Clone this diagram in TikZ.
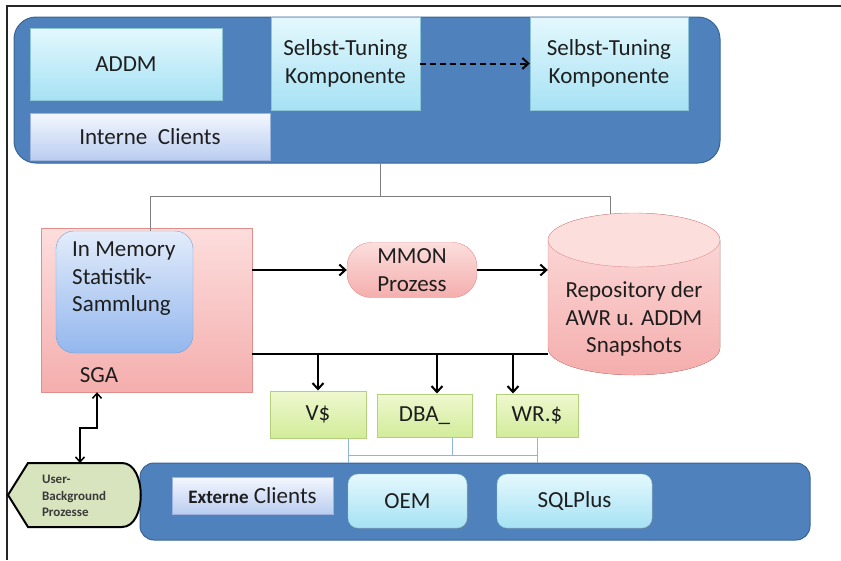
\documentclass[tikz,border=0pt]{standalone}
\usepackage{fontspec}
\setmainfont{Carlito}
\usetikzlibrary{arrows.meta,shadows}
\definecolor{ink}{HTML}{1E1E1E}
\definecolor{ink2}{HTML}{3A3A3A}
\definecolor{panelblue}{HTML}{4F81BD}
\definecolor{paneledge}{HTML}{3A6595}
\definecolor{cyantop}{HTML}{E4F8FD}
\definecolor{cyanbot}{HTML}{A6E2F4}
\definecolor{cyanedge}{HTML}{8CC6D6}
\definecolor{lavtop}{HTML}{F4F7FE}
\definecolor{lavbot}{HTML}{BACDF0}
\definecolor{lavedge}{HTML}{9DB3DE}
\definecolor{pinktop}{HTML}{FCDEDD}
\definecolor{pinkbot}{HTML}{F4AEAD}
\definecolor{pinkedge}{HTML}{E08E8C}
\definecolor{bluetop}{HTML}{E3ECFA}
\definecolor{bluebot}{HTML}{93B7EE}
\definecolor{blueedge}{HTML}{7A9FD3}
\definecolor{greentop}{HTML}{EFF8D0}
\definecolor{greenbot}{HTML}{D2EC9A}
\definecolor{greenedge}{HTML}{B3D17B}
\definecolor{olivefill}{HTML}{D7E4BD}
\definecolor{linkgray}{HTML}{7F7F7F}
\definecolor{fineblue}{HTML}{8EB4E3}
\begin{document}
\begin{tikzpicture}[x=1pt,y=-1pt,
  every node/.style={font=\fontsize{23}{27.5}\selectfont,text=ink,inner sep=0pt},
  panel/.style={draw=paneledge,line width=1pt,fill=panelblue,rounded corners=#1},
  cyanbox/.style={draw=cyanedge,top color=cyantop,bottom color=cyanbot,
    drop shadow={opacity=.3,shadow xshift=1.5pt,shadow yshift=-1.5pt}},
  lavbox/.style={draw=lavedge,top color=lavtop,bottom color=lavbot},
  greenbox/.style={draw=greenedge,line width=1pt,top color=greentop,bottom color=greenbot},
  pinkbox/.style={draw=pinkedge,top color=pinktop,bottom color=pinkbot},
  flow/.style={line width=2pt,-{Straight Barb[length=6pt,width=11pt]}},
  link/.style={draw=linkgray,line width=1pt},
  fine/.style={draw=fineblue,line width=1pt}]
\useasboundingbox (0,0) rectangle (841,560);
\draw[line width=2.5pt,black!85] (7,560) -- (7,6) -- (841,6);

% internal side
\node[panel=22pt,minimum width=706pt,minimum height=146pt] (intern) at (367,90) {};
\node[cyanbox,minimum width=192pt,minimum height=72pt] (addm) at (126,64) {ADDM};
\node[cyanbox,minimum width=149pt,minimum height=93pt,align=center] (tune1) at (345.5,63.5) {Selbst-Tuning\\Komponente};
\node[cyanbox,minimum width=158pt,minimum height=93pt,align=center] (tune2) at (609,63.5) {Selbst-Tuning\\Komponente};
\node[lavbox,minimum width=240pt,minimum height=47pt] (iclients) at (150,136.5) {Interne~ Clients};
\draw[line width=2pt,dash pattern=on 6pt off 4pt,-{Straight Barb[length=6pt,width=11pt]}] (tune1) -- (tune2);

% SGA and statistics
\node[pinkbox,minimum width=211pt,minimum height=164pt] (sga) at (146.5,310) {};
\node[draw=blueedge,top color=bluetop,bottom color=bluebot,rounded corners=18pt,
  minimum width=137pt,minimum height=122pt] (stat) at (124.5,292) {};
\node[anchor=north west,align=left] (stattext) at (72,242) {In Memory\\Statistik-\\Sammlung};
\node (sgatext) at (99,375) {SGA};
\node[pinkbox,rounded corners=24pt,minimum width=130pt,minimum height=55pt,align=center] (mmon) at (412,270) {MMON\\Prozess};

% repository
\fill[top color=pinktop,bottom color=pinkbot] (548,240) -- (548,348)
  arc[start angle=180,end angle=0,x radius=86,y radius=27] -- (720,240)
  arc[start angle=360,end angle=180,x radius=86,y radius=27] -- cycle;
\draw[pinkedge,fill=pinktop] (634,240) ellipse[x radius=86,y radius=27];
\draw[pinkedge] (548,240) -- (548,348)
  arc[start angle=180,end angle=0,x radius=86,y radius=27] -- (720,240);
\node[minimum width=172pt,align=center] (repo) at (634,319) {Repository der\\AWR u. ADDM\\Snapshots};
\coordinate (repotop) at (610,214);

\draw[link] ([xshift=13pt]intern.south) -- ++(0,33) coordinate (hub);
\draw[link] ([xshift=25.5pt]stat.north) |- (hub) -| (repotop);

\draw[flow] (sga.east |- mmon.west) -- (mmon.west);
\draw[flow] (mmon.east) -- (mmon.east -| repo.west);

% views
\node[greenbox,minimum width=96pt,minimum height=47pt] (vs) at (318,414.5) {V\$};
\node[greenbox,minimum width=95pt,minimum height=43pt] (dba) at (424.5,415.5) {DBA\_};
\node[greenbox,minimum width=82pt,minimum height=43pt] (wr) at (537,415.5) {WR.\$};
\draw[line width=2pt] ([yshift=-44pt]sga.east) coordinate (busw) -- (busw -| repo.west);
\path ([xshift=12.5pt]dba.north) coordinate (d0) ([xshift=-24pt]wr.north) coordinate (w0);
\draw[flow] (vs.north |- busw) -- (vs.north);
\draw[flow] (d0 |- busw) -- (d0);
\draw[flow] (w0 |- busw) -- (w0);

% external side
\node[panel=14pt,minimum width=670pt,minimum height=77pt] (extern) at (475,501.5) {};
\node[lavbox,minimum width=161pt,minimum height=37pt] (eclients) at (252.5,495.5)
  {{\bfseries\fontsize{19}{22}\selectfont Externe} Clients};
\node[cyanbox,rounded corners=10pt,minimum width=119pt,minimum height=54pt] (oem) at (407.5,501) {OEM};
\node[cyanbox,rounded corners=10pt,minimum width=155pt,minimum height=54pt] (sqlplus) at (574.5,501) {SQLPlus};

\draw[fine] ([xshift=30pt]vs.south) coordinate (v1) -- (v1 |- extern.north);
\draw[fine] (wr.south) -- (wr.south |- extern.north);
\draw[fine] ([xshift=27.5pt]dba.south) -- ++(0,18) coordinate (d1);
\draw[fine] (d1 -| v1) -- (d1 -| wr.south);

% user processes
\draw[line width=2pt,fill=olivefill] (8,495) -- (28,463) -- (122,463)
  .. controls (147,463) and (147,527) .. (122,527) -- (28,527) -- cycle;
\coordinate (usertop) at (80,463);
\node[font=\bfseries\fontsize{13}{16.5}\selectfont,text=ink2,align=left] (user) at (74,496) {User-\\Background\\Prozesse};
\draw[line width=1.5pt,{Straight Barb[length=5pt,width=9pt]}-{Straight Barb[length=5pt,width=9pt]}]
  ([xshift=-49.5pt]sga.south) -- ++(0,36) -| (usertop);
\end{tikzpicture}
\end{document}
